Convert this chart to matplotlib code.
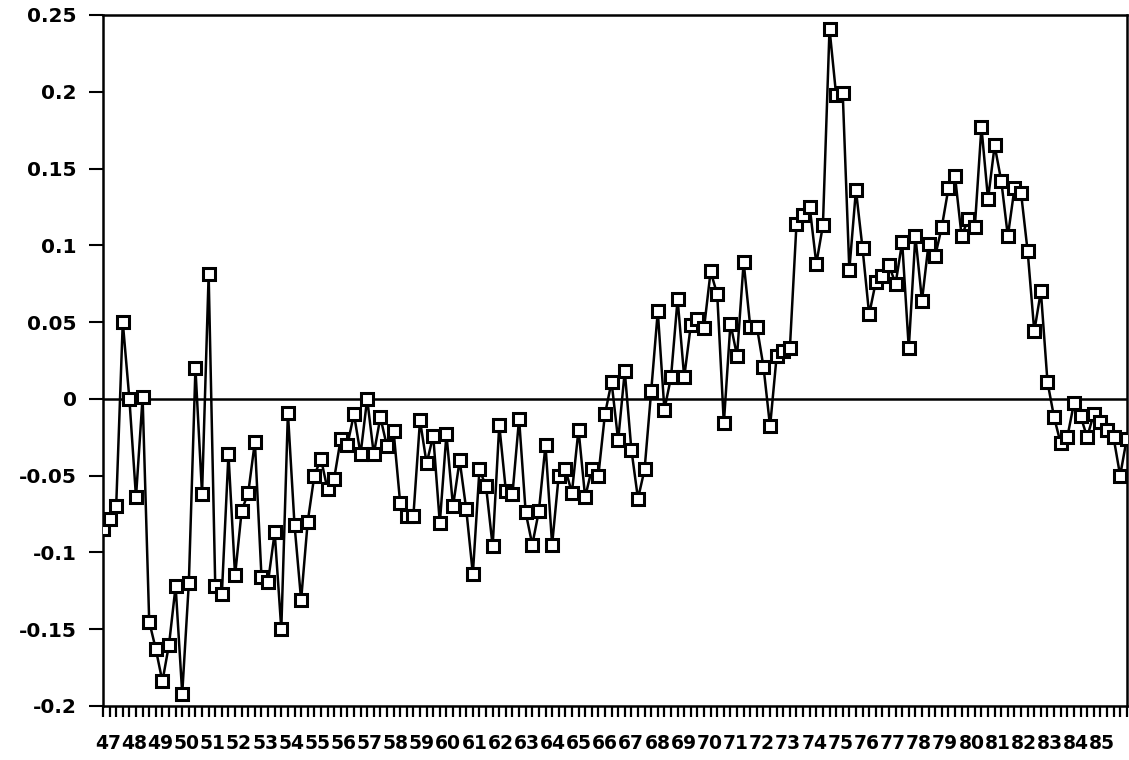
import matplotlib.pyplot as plt
import numpy as np

# quarterly values, 1947Q1 - 1985Q4
values_47_55 = [-0.085, -0.078, -0.070, 0.050, 0.000, -0.064, 0.001, -0.145, -0.163, -0.184,
                -0.160, -0.122, -0.192, -0.120, 0.020, -0.062, 0.081, -0.122, -0.127, -0.036,
                -0.115, -0.073, -0.061, -0.028, -0.116, -0.119, -0.087, -0.150, -0.009, -0.082,
                -0.131, -0.080, -0.050, -0.039, -0.059, -0.052]
values_56_65 = [-0.026, -0.030, -0.010, -0.036, 0.000, -0.036, -0.012, -0.031, -0.021, -0.068,
                -0.076, -0.076, -0.014, -0.042, -0.024, -0.081, -0.023, -0.070, -0.040, -0.072,
                -0.114, -0.046, -0.057, -0.096, -0.017, -0.060, -0.062, -0.013, -0.074, -0.095,
                -0.073, -0.030, -0.095, -0.050, -0.046, -0.061, -0.020, -0.064, -0.046]
values_65_73 = [-0.050, -0.010, 0.011, -0.027, 0.018, -0.033, -0.065, -0.046, 0.005, 0.057,
                -0.007, 0.014, 0.065, 0.014, 0.048, 0.052, 0.046, 0.083, 0.068, -0.016,
                0.049, 0.028, 0.089, 0.047, 0.047, 0.021, -0.018, 0.028, 0.031, 0.033,
                0.114]
values_73_85 = [0.120, 0.125, 0.088, 0.113, 0.241, 0.198, 0.199, 0.084, 0.136, 0.098,
                0.055, 0.076, 0.080, 0.087, 0.075, 0.102, 0.033, 0.106, 0.064, 0.101,
                0.093, 0.112, 0.137, 0.145, 0.106, 0.117, 0.112, 0.177, 0.130, 0.165,
                0.142, 0.106, 0.137, 0.134, 0.096, 0.044, 0.070, 0.011, -0.012, -0.029,
                -0.025, -0.003, -0.011, -0.025, -0.010, -0.015, -0.020, -0.025, -0.050, -0.026]

years = [str(y) for y in range(47, 86)]
y_ticks = [0.25, 0.2, 0.15, 0.1, 0.05, 0, -0.05, -0.1, -0.15, -0.2]
y_tick_labels = ['0.25', '0.2', '0.15', '0.1', '0.05', '0', '-0.05', '-0.1', '-0.15', '-0.2']

values = values_47_55 + values_56_65 + values_65_73 + values_73_85
x = np.arange(len(values))

fig = plt.figure(figsize=(11.29, 7.6), dpi=100)
ax = fig.add_axes([0.0912, 0.0711, 0.9068, 0.9092])

ax.axhline(0, color='black', linewidth=1.8, zorder=1)
ax.plot(x, values, color='black', linewidth=1.8, marker='s', markersize=8.5,
        markerfacecolor='white', markeredgecolor='black', markeredgewidth=2.2, zorder=3)

ax.set_xlim(0, len(values) - 1)
ax.set_ylim(-0.2, 0.25)

# a tick for every quarter, one year label roughly every four ticks
ax.xaxis.remove_overlapping_locs = False
ax.set_xticks(x)
ax.set_xticklabels([])
ax.set_xticks(0.8 + np.arange(len(years)) * 3.96, minor=True)
ax.set_xticklabels(years, minor=True, fontsize=13.5, fontweight='bold', family='DejaVu Sans')
ax.tick_params(axis='x', which='major', direction='out', length=8, width=1.6)
ax.tick_params(axis='x', which='minor', length=0, pad=20)

ax.set_yticks(y_ticks)
ax.set_yticklabels(y_tick_labels, fontsize=14.5, fontweight='bold', family='DejaVu Sans')
ax.tick_params(axis='y', direction='out', length=10, width=1.5, pad=9)

for side in ['left', 'right', 'top', 'bottom']:
    ax.spines[side].set_linewidth(1.8)

fig.savefig('out.png', dpi=100)
